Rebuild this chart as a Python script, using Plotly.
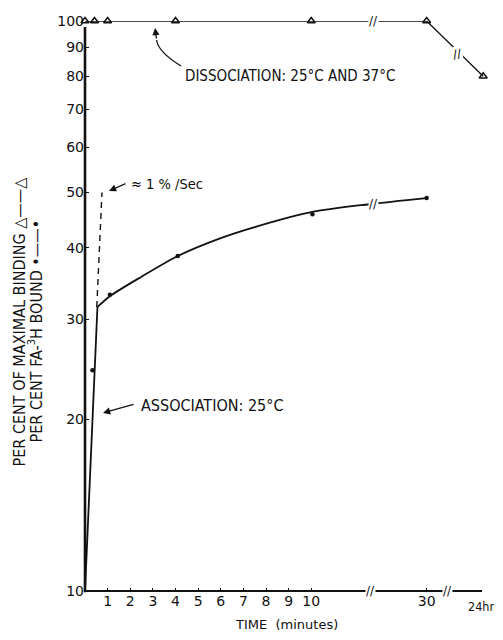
import numpy as np
import plotly.graph_objects as go

# ---------------- data ----------------
# Broken time axis: 0-10 min linear, then 30 min, then 24 hr
x_tick_labels = ["1", "2", "3", "4", "5", "6", "7", "8", "9", "10", "30"]
x_tick_times = [1, 2, 3, 4, 5, 6, 7, 8, 9, 10, 30]
y_tick_vals = [10, 20, 30, 40, 50, 60, 70, 80, 90, 100]

# Dissociation (% of maximal binding), triangles
diss_time = [0, 0.42, 1, 4, 10, 30, 1440]
diss_val = [100, 100, 100, 100, 100, 100, 80]

# Association (% FA-3H bound), dots
assoc_time = [0.33, 1.1, 4.1, 10.2, 30]
assoc_val = [24.4, 33.1, 38.7, 45.8, 48.9]

# Drawn association curve
init_time = [0, 0.55]
init_val = [10, 31.5]
curve_time = [0.55, 1.1, 2.5, 4.1, 6, 7.5, 10, 20, 30]
curve_val = [31.5, 32.9, 35.6, 38.7, 41.6, 43.5, 46.2, 47.7, 48.9]

# Initial rate line (~1 %/sec)
rate_time = [0.52, 0.75]
rate_val = [31.5, 50]


def xpos(t):
    """Map time (minutes) onto the broken axis."""
    if t <= 10:
        return t
    if t <= 30:
        return 10 + (t - 10) * 5.1 / 20
    return 17.6


def xp(ts):
    return [xpos(t) for t in ts]


FONT = "DejaVu Sans"
CFONT = "DejaVu Sans Condensed"
BLACK = "#111111"

fig = go.Figure()

fig.add_trace(go.Scatter(x=xp(diss_time), y=diss_val, mode="lines+markers",
                         line=dict(color=BLACK, width=1.3),
                         marker=dict(symbol="triangle-up-open", size=7,
                                     color=BLACK, line=dict(width=1.5)),
                         cliponaxis=False, showlegend=False))
fig.add_trace(go.Scatter(x=xp(init_time), y=init_val, mode="lines",
                         line=dict(color=BLACK, width=1.8),
                         cliponaxis=False, showlegend=False))
fig.add_trace(go.Scatter(x=xp(curve_time), y=curve_val, mode="lines",
                         line=dict(color=BLACK, width=1.8, shape="spline",
                                   smoothing=0.8),
                         cliponaxis=False, showlegend=False))
fig.add_trace(go.Scatter(x=xp(rate_time), y=rate_val, mode="lines",
                         line=dict(color=BLACK, width=1.4, dash="6px,5px"),
                         cliponaxis=False, showlegend=False))
fig.add_trace(go.Scatter(x=xp(assoc_time), y=assoc_val, mode="markers",
                         marker=dict(symbol="circle", size=4.5, color=BLACK),
                         cliponaxis=False, showlegend=False))

# page body has an 8px margin; figure is shrunk/shifted to compensate
OFF = 8
W, H = 503 - OFF, 640 - 2 * OFF
# plot-area geometry in reference pixels (x axis drawn to 17.55, range to 17.9)
XMAX = 17.9
L, T, B = 85, 21, 591
R = L + XMAX * 22.6


def px(x):
    return (x - L) / (R - L)


def py(y):
    return (B - y) / (B - T)


ann = []


def text(s, x, y, size=13, xanchor="left", angle=0, family=CFONT):
    ann.append(dict(text=s, x=px(x), y=py(y), xref="paper", yref="paper",
                    xanchor=xanchor, yanchor="middle", showarrow=False,
                    textangle=angle,
                    font=dict(family=family, size=size, color=BLACK)))


def arrow(hx, hy, tx, ty):
    ann.append(dict(text="", x=px(hx), y=py(hy), xref="paper", yref="paper",
                    ax=tx - hx, ay=ty - hy, showarrow=True, arrowhead=2,
                    arrowsize=1.1, arrowwidth=1.3, arrowcolor=BLACK))


def brk(xv, yv, size=12, angle=0):
    ann.append(dict(text="//", x=xv, y=np.log10(yv), xref="x", yref="y",
                    showarrow=False, textangle=angle, bgcolor="white",
                    borderpad=0,
                    font=dict(family=FONT, size=size, color=BLACK)))


text("DISSOCIATION: 25°C AND 37°C", 183, 76, size=15)
text("≈ 1 % /Sec", 129, 184, size=14.5)
text("ASSOCIATION: 25°C", 139, 405, size=16)
text("TIME  (minutes)", 286, 624, size=13, xanchor="center", family=FONT)
text("24hr", 466, 606, size=12.5)
text("PER CENT OF MAXIMAL BINDING △——△", 19.5, 321, size=16,
     xanchor="center", angle=-90)
text("PER CENT FA-<sup>3</sup>H BOUND •——•", 35.5, 331, size=16,
     xanchor="center", angle=-90)

arrow(109, 191, 127, 183)
arrow(103, 413, 135, 404)
arrow(155, 28, 156.5, 40)

shapes = [
    # x axis line (ends at 24 hr)
    dict(type="line", xref="x", yref="paper", x0=0, x1=17.55, y0=0, y1=0,
         line=dict(color=BLACK, width=2.2)),
    # y axis line (stops a little below the 100 line)
    dict(type="line", xref="paper", yref="paper", x0=0, x1=0, y0=-0.002,
         y1=py(27), line=dict(color=BLACK, width=2.6)),
    dict(type="path", xref="paper", yref="paper",
         path="M %f,%f Q %f,%f %f,%f" % (px(181), py(66), px(158), py(52),
                                        px(156.5), py(40)),
         line=dict(color=BLACK, width=1.3)),
]

# axis/line breaks
brk(xpos(20.2), 10, size=12)
brk(16.02, 10, size=12)
brk(xpos(20.8), 47.7, size=12)
brk(xpos(20.8), 100, size=12)
brk(16.46, 87.5, size=12, angle=-10)

fig.update_layout(
    width=W, height=H,
    margin=dict(l=L - OFF, r=(W + OFF) - R, t=T - OFF, b=(H + OFF) - B,
                autoexpand=False),
    paper_bgcolor="white", plot_bgcolor="white",
    font=dict(family=FONT, size=14, color=BLACK),
    annotations=ann, shapes=shapes,
    xaxis=dict(range=[0, XMAX], tickvals=xp(x_tick_times),
               ticktext=x_tick_labels, ticks="inside", ticklen=3,
               tickwidth=1.2, tickcolor=BLACK, showline=False,
               showgrid=False, zeroline=False,
               automargin=False, tickfont=dict(family=FONT, size=14)),
    yaxis=dict(type="log", range=[1, 2], tickvals=y_tick_vals,
               ticktext=[str(v) for v in y_tick_vals], ticks="inside",
               ticklen=4, tickwidth=1.2, tickcolor=BLACK, showline=False,
               showgrid=False, zeroline=False, automargin=False,
               tickfont=dict(family=FONT, size=14)),
)

fig.write_html("out.html")
